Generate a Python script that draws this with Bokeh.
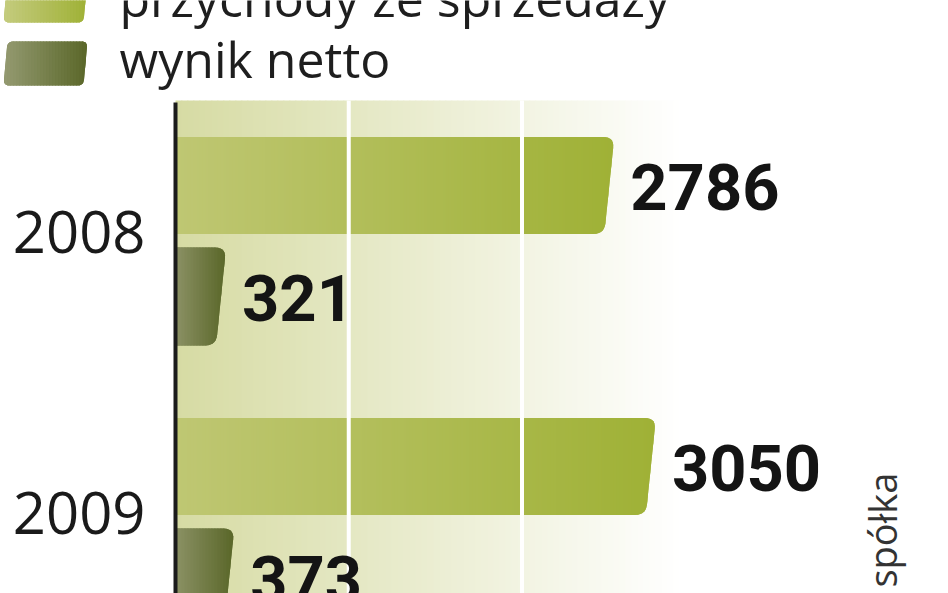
import math
from bokeh.plotting import figure
from bokeh.models import Range1d, ColumnDataSource
from bokeh.core.properties import value
from bokeh.embed import file_html
from bokeh.resources import INLINE

# ---------------- data ----------------
years = ["2008", "2009"]
revenue = [2786, 3050]          # przychody ze sprzedaży
net_result = [321, 373]         # wynik netto
series_labels = ["przychody ze sprzedaży", "wynik netto"]
grid_ticks = [1100, 2200]
source_text = "spółka"

# ---------------- geometry (page pixels) ----------------
W, H = 948, 593
AXIS_PX = 175.0        # where value 0 sits
TOP_PX = 100.0         # top of the plotting panel
KX = 0.1575            # pixels per unit (x)
KY = 281.0             # pixels per year row (y)
ROW0_PX = 241.0        # centre of the first year row
MID = 0.443            # em offset: 'middle' anchor -> alphabetic baseline


def xd(px):
    return (px - AXIS_PX) / KX


def yd(py):
    return (py - ROW0_PX) / KY


def hex2rgb(h):
    return tuple(int(h[i:i + 2], 16) for i in (1, 3, 5))


def mix(c1, c2, t):
    t = max(0.0, min(1.0, t))
    a, b = hex2rgb(c1), hex2rgb(c2)
    return "#%02x%02x%02x" % tuple(round(a[k] + (b[k] - a[k]) * t) for k in range(3))


def rounded(poly, radii, steps=7):
    out = []
    n = len(poly)
    for i, (P, r) in enumerate(zip(poly, radii)):
        if r <= 0:
            out.append(P)
            continue
        A, B = poly[i - 1], poly[(i + 1) % n]

        def toward(Q):
            vx, vy = Q[0] - P[0], Q[1] - P[1]
            d = math.hypot(vx, vy)
            rr = min(r, d / 2)
            return (P[0] + vx / d * rr, P[1] + vy / d * rr)

        p1, p2 = toward(A), toward(B)
        for s in range(steps + 1):
            t = s / steps
            out.append(((1 - t) ** 2 * p1[0] + 2 * (1 - t) * t * P[0] + t * t * p2[0],
                        (1 - t) ** 2 * p1[1] + 2 * (1 - t) * t * P[1] + t * t * p2[1]))
    return out


def clip_band(poly, x0, x1):
    def clip(pts, keep, cut):
        out = []
        for i in range(len(pts)):
            cur, prev = pts[i], pts[i - 1]
            if keep(cur):
                if not keep(prev):
                    out.append(cut(prev, cur))
                out.append(cur)
            elif keep(prev):
                out.append(cut(prev, cur))
        return out

    def at(c):
        def f(a, b):
            t = (c - a[0]) / (b[0] - a[0])
            return (c, a[1] + t * (b[1] - a[1]))
        return f

    pts = clip(poly, lambda q: q[0] >= x0, at(x0))
    if len(pts) < 3:
        return []
    return clip(pts, lambda q: q[0] <= x1, at(x1))


def gradient_pieces(poly, c_left, c_right, step=3.0):
    xs = [q[0] for q in poly]
    lo, hi = min(xs), max(xs)
    pieces = [(poly, mix(c_left, c_right, 0.5))]
    x = lo
    while x < hi - 1e-9:
        x1 = min(x + step, hi)
        pts = clip_band(poly, x, min(x1 + 0.8, hi))
        if len(pts) >= 3:
            t = ((x + x1) / 2 - lo) / (hi - lo)
            pieces.append((pts, mix(c_left, c_right, t)))
        x = x1
    return pieces


def bar_outline(val, centre_px, height_px, slant_px, radius_px):
    # polygon in page pixels: the top-right corner sits at the value
    x0 = AXIS_PX
    x1 = AXIS_PX + val * KX
    top, bot = centre_px - height_px / 2, centre_px + height_px / 2
    base = [(x0, top), (x1, top), (x1 - slant_px, bot), (x0, bot)]
    return rounded(base, [0, radius_px, radius_px, 0])


def add_pieces(src, pieces):
    for pts, col in pieces:
        src["xs"].append([xd(q[0]) for q in pts])
        src["ys"].append([yd(q[1]) for q in pts])
        src["color"].append(col)


# ---------------- figure ----------------
y_top = yd(TOP_PX)
y_bottom = yd(H)

p = figure(width=W, height=H, output_backend="svg", toolbar_location=None,
           tools="", title=None,
           x_range=Range1d(xd(0), xd(W)), y_range=Range1d(yd(H), yd(0)),
           x_axis_location=None, y_axis_location=None,
           min_border=0, min_border_left=0, min_border_right=0,
           min_border_top=0, min_border_bottom=0)
p.outline_line_color = None
p.background_fill_color = "white"
p.border_fill_color = "white"
p.grid.visible = False

# background panel: olive gradient fading to white
bg = dict(left=[], right=[], top=[], bottom=[], color=[])
BG_L, BG_R = "#d6dba3", "#ffffff"
fade_end = 680.0
x = AXIS_PX
step = 6.0
while x < W:
    x1 = x + step
    bg["left"].append(xd(x))
    bg["right"].append(xd(x1 + 0.8))
    bg["top"].append(y_top)
    bg["bottom"].append(y_bottom)
    bg["color"].append(mix(BG_L, BG_R, ((x + x1) / 2 - AXIS_PX) / (fade_end - AXIS_PX)))
    x = x1
p.quad(left="left", right="right", top="top", bottom="bottom", color="color",
       line_color=None, source=ColumnDataSource(bg))

# bars
REV_L, REV_R = "#bfc773", "#9fb136"
NET_L, NET_R = "#8b9165", "#5a6729"
REV_OFF, NET_OFF = -56.0, 55.0
bar_src = dict(xs=[], ys=[], color=[])
for i, (rv, nv) in enumerate(zip(revenue, net_result)):
    row_px = ROW0_PX + i * KY
    for val, off, h, cl, cr in ((rv, REV_OFF, 97, REV_L, REV_R),
                                (nv, NET_OFF, 98, NET_L, NET_R)):
        add_pieces(bar_src, gradient_pieces(bar_outline(val, row_px + off, h, 10, 11), cl, cr))
p.patches(xs="xs", ys="ys", fill_color="color", line_color=None,
          source=ColumnDataSource(bar_src))

# white grid lines over the bars
p.segment(x0=grid_ticks, y0=[y_top] * len(grid_ticks), x1=grid_ticks,
          y1=[y_bottom] * len(grid_ticks), line_color="white", line_width=4)

# value axis line
p.segment(x0=[0], y0=[y_top + 2 / KY], x1=[0], y1=[y_bottom], line_color="#1b1b1b",
          line_width=4)

# year labels
p.text(x=[xd(145)] * len(years), y=[i - 9.5 / KY for i in range(len(years))], text=years,
       text_font=value("Open Sans"), text_font_size="58px", text_color="#1a1a1a",
       text_align="right", text_baseline="middle")

# value labels
lab = dict(x=[], y=[], text=[])
for i, (rv, nv) in enumerate(zip(revenue, net_result)):
    for val, off in ((rv, REV_OFF), (nv, NET_OFF)):
        lab["x"].append(val + 16.0 / KX)
        lab["y"].append(i + (off + 1.0) / KY)
        lab["text"].append(str(val))
p.text(x="x", y="y", text="text", source=ColumnDataSource(lab),
       text_font=value("Roboto"), text_font_style="bold", text_font_size="65px",
       text_color="#141414", text_align="left", text_baseline="middle")

# legend (swatches + texts)
swatches = [
    ((-22.0, 22.0), REV_L, REV_R),
    ((41.0, 85.0), NET_L, NET_R),
]
baselines = [20.0, 81.0]
LEG_FS = 50
leg_src = dict(xs=[], ys=[], color=[])
for (top, bot), cl, cr in swatches:
    base = [(7.0, top), (87.0, top), (83.0, bot), (3.0, bot)]
    add_pieces(leg_src, gradient_pieces(rounded(base, [6, 6, 6, 6]),
                                        mix(cl, "#ffffff", 0.08), cr))
p.patches(xs="xs", ys="ys", fill_color="color", line_color=None,
          source=ColumnDataSource(leg_src))
p.text(x=[xd(119)] * len(series_labels),
       y=[yd(b - MID * LEG_FS) for b in baselines], text=series_labels,
       text_font=value("Open Sans"), text_font_size=f"{LEG_FS}px", text_color="#1e1e1e",
       text_align="left", text_baseline="middle")

# source note (vertical, reading upwards)
SRC_FS = 38
p.text(x=[xd(898 - MID * SRC_FS)], y=[yd(587)], text=[source_text], angle=math.pi / 2,
       text_font=value("Open Sans"), text_font_size=f"{SRC_FS}px", text_color="#333333",
       text_align="left", text_baseline="middle")

open("out.html", "w").write(file_html(p, INLINE))
